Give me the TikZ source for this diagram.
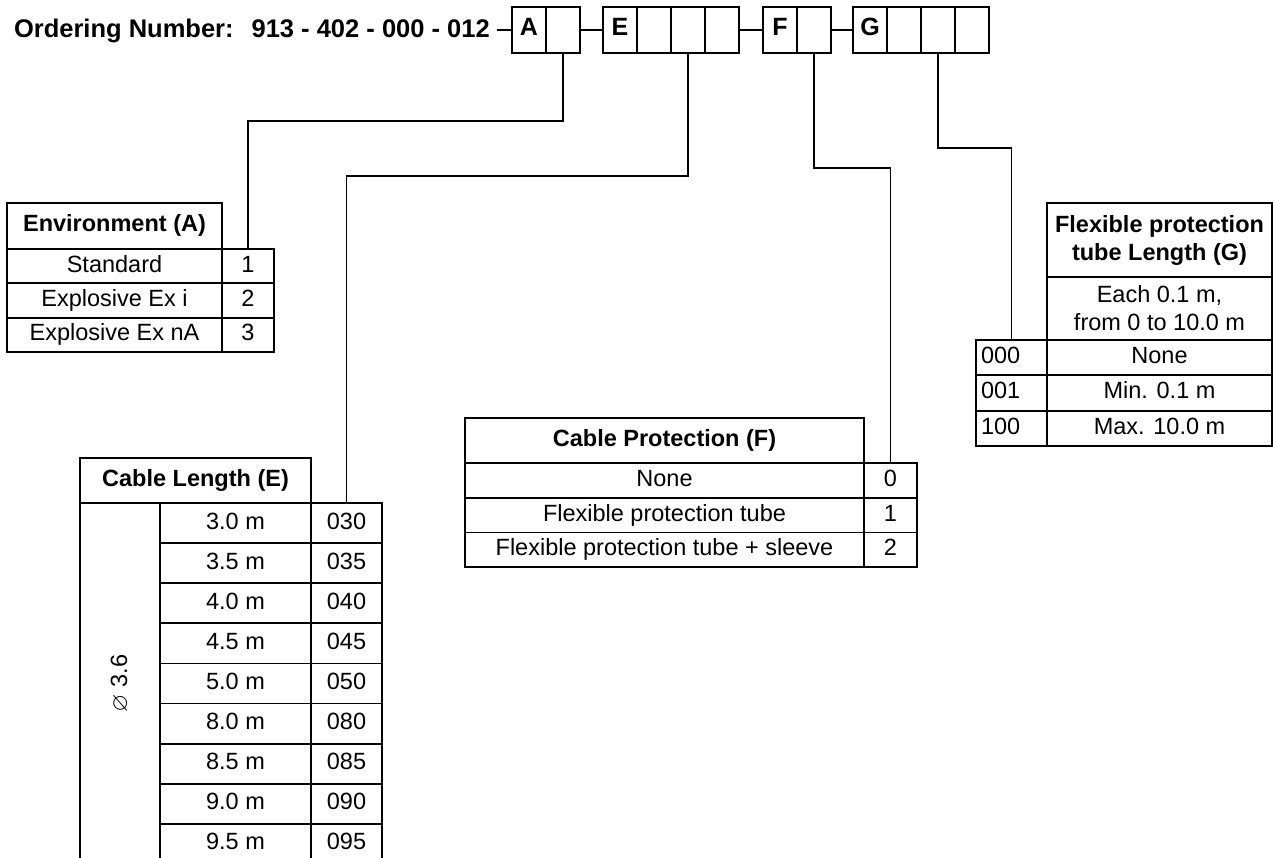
\documentclass[tikz,border=0pt]{standalone}
\usepackage{amssymb}
\usepackage{fontspec}
\setmainfont{Liberation Sans}
\usetikzlibrary{positioning}

\begin{document}
\begin{tikzpicture}[x=1pt, y=-1pt,
  tbl/.style={draw, line width=1.8pt, rectangle, inner sep=0pt, outer sep=0pt,
    font=\fontsize{23.5}{28}\selectfont, align=center},
  cell/.style={tbl, text height=17pt, text depth=5pt},
  hcell/.style={cell, font=\bfseries\fontsize{23.5}{28}\selectfont},
  keybox/.style={cell, minimum width=34pt, minimum height=46pt,
    font=\bfseries\fontsize{25}{28}\selectfont},
  codecell/.style={cell, text width=61pt, align=left},
  link/.style={line width=1.8pt},
  titletext/.style={font=\bfseries\fontsize{25.5}{30}\selectfont, inner sep=0pt}]

\useasboundingbox (0,0) rectangle (1273,858);

% ordering number and key boxes
\node[titletext, anchor=base east] (title) at (490,37.5) {Ordering Number:\hspace{18pt}913 - 402 - 000 - 012};
\coordinate (titleend) at ([xshift=7pt]title.east);

\node[keybox, anchor=north west] (a1) at (512,7) {A};
\node[keybox, right=0pt of a1] (a2) {};
\node[keybox, anchor=north west] (e1) at (603,7) {E};
\foreach \i [evaluate=\i as \prev using int(\i-1)] in {2,3,4} {\node[keybox, right=0pt of e\prev] (e\i) {};}
\node[keybox, anchor=north west] (f1) at (763,7) {F};
\node[keybox, right=0pt of f1] (f2) {};
\node[keybox, anchor=north west] (g1) at (853,7) {G};
\foreach \i [evaluate=\i as \prev using int(\i-1)] in {2,3,4} {\node[keybox, right=0pt of g\prev] (g\i) {};}

\draw[link] (a1.west -| titleend) -- (a1.west);
\foreach \i/\j in {a2/e1,e4/f1,f2/g1} {\draw[link] (\i.east) -- (\j.west);}

% environment (A)
\node[hcell, minimum width=215pt, minimum height=46pt, anchor=north west] (env0) at (7,203) {Environment (A)};
\foreach \lbl/\val [count=\i, evaluate=\i as \prev using int(\i-1)] in {Standard/1, Explosive Ex i/2, Explosive Ex nA/3} {
  \node[cell, minimum width=215pt, minimum height=34.3pt, below=0pt of env\prev] (env\i) {\lbl};
  \node[cell, minimum width=52pt, minimum height=34.3pt, right=0pt of env\i] (envv\i) {\val};
}

% cable length (E)
\node[hcell, minimum width=231pt, minimum height=45pt, anchor=north west] (lenhead) at (80,458) {Cable Length (E)};
\node[cell, minimum width=80pt, minimum height=361pt, anchor=north west] (lendia) at (lenhead.south west) {};
\node[font=\fontsize{23.5}{28}\selectfont, rotate=90] (lendiatext) at (lendia.center) {$\varnothing$ 3.6};
\node[cell, minimum width=151pt, minimum height=40.1pt, anchor=north west] (lenl1) at (lendia.north east) {3.0 m};
\node[cell, minimum width=71pt, minimum height=40.1pt, right=0pt of lenl1] (lenc1) {030};
\foreach \len/\code [count=\i from 2, evaluate=\i as \prev using int(\i-1)] in
  {3.5 m/035, 4.0 m/040, 4.5 m/045, 5.0 m/050, 8.0 m/080, 8.5 m/085, 9.0 m/090, 9.5 m/095} {
  \node[cell, minimum width=151pt, minimum height=40.1pt, below=0pt of lenl\prev] (lenl\i) {\len};
  \node[cell, minimum width=71pt, minimum height=40.1pt, right=0pt of lenl\i] (lenc\i) {\code};
}

% cable protection (F)
\node[hcell, minimum width=399pt, minimum height=45pt, anchor=north west] (prothead) at (465,418) {Cable Protection (F)};
\node[cell, minimum width=399pt, minimum height=34.7pt, below=0pt of prothead] (prot0) {None};
\node[cell, minimum width=53pt, minimum height=34.7pt, right=0pt of prot0] (protv0) {0};
\foreach \lbl/\val [evaluate=\val as \prev using int(\val-1)] in {Flexible protection tube/1, Flexible protection tube + sleeve/2} {
  \node[cell, minimum width=399pt, minimum height=34.7pt, below=0pt of prot\prev] (prot\val) {\lbl};
  \node[cell, minimum width=53pt, minimum height=34.7pt, right=0pt of prot\val] (protv\val) {\val};
}

% flexible protection tube length (G)
\node[tbl, font=\bfseries\fontsize{23.5}{28}\selectfont, minimum width=225pt, minimum height=74pt, anchor=north west] (ghead) at (1047,203) {Flexible protection\\tube Length (G)};
\node[tbl, minimum width=225pt, minimum height=63pt, below=0pt of ghead] (glbl0) {Each 0.1 m,\\from 0 to 10.0 m};
\foreach \lbl/\code [count=\i, evaluate=\i as \prev using int(\i-1)] in {None/000, Min. 0.1 m/001, Max. 10.0 m/100} {
  \node[cell, minimum width=225pt, minimum height=35.3pt, below=0pt of glbl\prev] (glbl\i) {\lbl};
  \node[codecell, minimum width=71pt, minimum height=35.3pt, left=0pt of glbl\i] (gcode\i) {\code};
}

% connectors from the key boxes
\draw[link] (a2.south) -- ++(0,68) -| (envv1.north);
\draw[link] (e3.south) -- ++(0,123) -| (lenc1.north);
\draw[link] (f2.south) -- ++(0,115) -| (protv0.north);
\draw[link] (g3.south) -- ++(0,95) -| (gcode1.north);

\end{tikzpicture}
\end{document}
